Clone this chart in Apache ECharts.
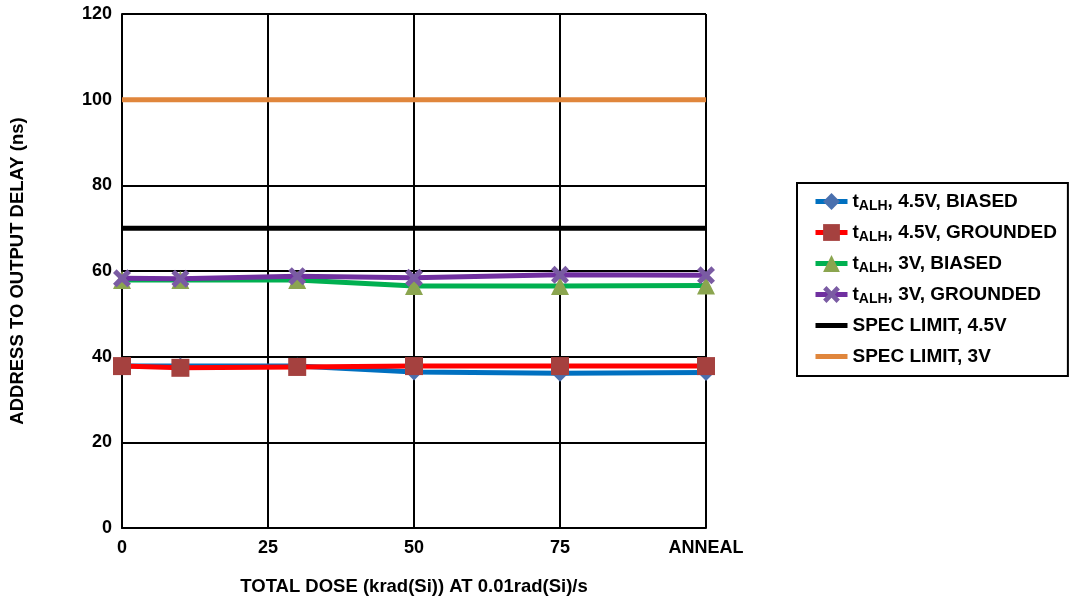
<!DOCTYPE html>
<html>
<head>
<meta charset="utf-8">
<script src="https://cdn.jsdelivr.net/npm/echarts@6/dist/echarts.min.js"></script>
<style>html,body{margin:0;padding:0;background:#fff;}#c{width:1070px;height:601px;}</style>
</head>
<body>
<div id="c"></div>
<script>
const doses = [0, 10, 30, 50, 75, 100];
const biased45 = [37.8, 37.8, 37.8, 36.4, 36.1, 36.3];
const grounded45 = [37.8, 37.4, 37.6, 37.8, 37.8, 37.8];
const biased3 = [57.9, 57.9, 57.9, 56.5, 56.5, 56.6];
const grounded3 = [58.3, 58.2, 58.8, 58.4, 59.1, 59.0];
const specLimit45 = [70, 70];
const specLimit3 = [100, 100];
const specX = [0, 100];
const xTicks = {0: '0', 25: '25', 50: '50', 75: '75', 100: 'ANNEAL'};

function pairs(xs, ys) { return xs.map((x, i) => [x, ys[i]]); }

const chart = echarts.init(document.getElementById('c'));
const font = "'Liberation Sans', Arial, sans-serif";
const rich = {
  t: {fontSize: 19, fontWeight: 'bold', fontFamily: font, color: '#000', lineHeight: 23},
  s: {fontSize: 14, fontWeight: 'bold', fontFamily: font, color: '#000', lineHeight: 14, padding: [9, 0, 0, 0]}
};
const crossPath = 'path://M0,4 L4,0 L10,6 L16,0 L20,4 L14,10 L20,16 L16,20 L10,14 L4,20 L0,16 L6,10 Z';
function mk(name, data, lineColor, sym, symColor, size) {
  return {
    name: name, type: 'line', data: data,
    symbol: sym, symbolSize: size, showSymbol: true,
    lineStyle: {color: lineColor, width: 5},
    itemStyle: {color: symColor},
    z: 3
  };
}
function spec(name, data, color) {
  return {
    name: name, type: 'line', data: data, symbol: 'circle', showSymbol: false,
    lineStyle: {color: color, width: 5}, itemStyle: {color: 'rgba(0,0,0,0)', borderWidth: 0}, z: 2
  };
}
chart.setOption({
  animation: false,
  backgroundColor: '#fff',
  textStyle: {fontFamily: font},
  grid: {left: 122, right: 364, top: 14, bottom: 73, outerBoundsMode: 'none', containLabel: false},
  xAxis: {
    type: 'value', min: 0, max: 100, interval: 25,
    name: 'TOTAL DOSE (krad(Si)) AT 0.01rad(Si)/s', nameLocation: 'middle', nameGap: 49,
    nameTextStyle: {fontSize: 18.5, fontWeight: 'bold', color: '#000', fontFamily: font},
    axisLine: {lineStyle: {color: '#000', width: 2}},
    axisTick: {show: false},
    axisLabel: {formatter: v => xTicks[v], fontSize: 18, fontWeight: 'bold', color: '#000', margin: 11, fontFamily: font},
    splitLine: {show: true, lineStyle: {color: '#000', width: 2}}
  },
  yAxis: {
    type: 'value', min: 0, max: 120, interval: 20,
    name: 'ADDRESS TO OUTPUT DELAY (ns)', nameLocation: 'middle', nameGap: 95,
    nameTextStyle: {fontSize: 18.5, fontWeight: 'bold', color: '#000', fontFamily: font},
    axisLine: {show: true, lineStyle: {color: '#000', width: 2}},
    axisTick: {show: false},
    axisLabel: {fontSize: 18, fontWeight: 'bold', color: '#000', margin: 10, fontFamily: font},
    splitLine: {show: true, lineStyle: {color: '#000', width: 2}}
  },
  legend: {
    orient: 'vertical', left: 797, top: 183,
    padding: [7, 11, 8, 16],
    borderColor: '#000', borderWidth: 2,
    itemWidth: 32, itemHeight: 21, itemGap: 8, itemTextGap: 14,
    lineStyle: {width: 5},
    data: ['b45', 'g45', 'b3', 'g3', 'sl45', 'sl3'],
    formatter: function (n) {
      return {
        b45: '{t|t}{s|ALH}{t|, 4.5V, BIASED}',
        g45: '{t|t}{s|ALH}{t|, 4.5V, GROUNDED}',
        b3: '{t|t}{s|ALH}{t|, 3V, BIASED}',
        g3: '{t|t}{s|ALH}{t|, 3V, GROUNDED}',
        sl45: '{t|SPEC LIMIT, 4.5V}{s| }',
        sl3: '{t|SPEC LIMIT, 3V}{s| }'
      }[n];
    },
    textStyle: {rich: rich, fontSize: 19, fontWeight: 'bold', color: '#000'}
  },
  series: [
    spec('sl45', pairs(specX, specLimit45), '#000'),
    spec('sl3', pairs(specX, specLimit3), '#E0863C'),
    mk('b45', pairs(doses, biased45), '#0070C0', 'diamond', '#4A70AE', 17),
    mk('g45', pairs(doses, grounded45), '#FF0000', 'rect', '#A5413F', 18),
    mk('b3', pairs(doses, biased3), '#00B050', 'triangle', '#8BA54F', 18),
    mk('g3', pairs(doses, grounded3), '#7030A0', crossPath, '#7A5BA3', 18)
  ]
});
</script>
</body>
</html>
